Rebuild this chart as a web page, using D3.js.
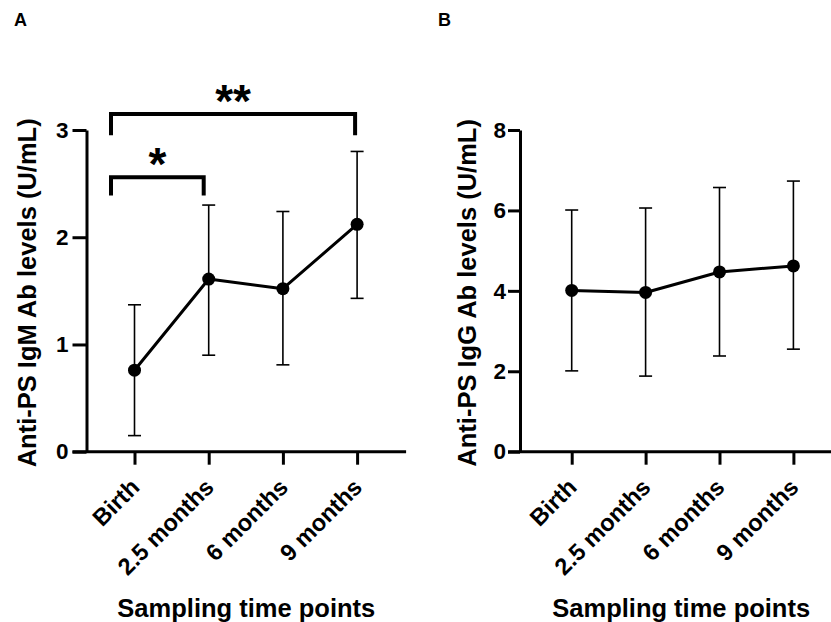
<!DOCTYPE html>
<html>
<head>
<meta charset="utf-8">
<script src="https://cdn.jsdelivr.net/npm/d3@7"></script>
<style>
  html, body { margin: 0; padding: 0; background: #fff; }
  svg { display: block; }
  text { font-family: "Liberation Sans", Arial, Helvetica, sans-serif; font-weight: bold; fill: #000; }
</style>
</head>
<body>
<svg id="chart" width="831" height="622"></svg>
<script>
// ---- data ----
const categories = ["Birth", "2.5 months", "6 months", "9 months"];

const igmMean = [0.76, 1.61, 1.52, 2.12];
const igmLow  = [0.15, 0.90, 0.81, 1.43];
const igmHigh = [1.37, 2.30, 2.24, 2.80];
const igmTicks = [0, 1, 2, 3];

const iggMean = [4.01, 3.96, 4.47, 4.62];
const iggLow  = [2.01, 1.88, 2.38, 2.55];
const iggHigh = [6.01, 6.06, 6.57, 6.73];
const iggTicks = [0, 2, 4, 6, 8];

// significance brackets (category indices, heights in data units)
const igmBrackets = [
  { from: 0, to: 1, y: 2.56, legBottom: 2.39, label: "*" },
  { from: 0, to: 3, y: 3.15, legBottom: 2.95, label: "**" }
];

const panelLabels = ["A", "B"];
const yTitles = ["Anti-PS IgM Ab levels (U/mL)", "Anti-PS IgG Ab levels (U/mL)"];
const xTitle = "Sampling time points";

// ---- layout ----
const svg = d3.select("#chart");
const yBottom = 451.7, yTop = 130;

const panels = [
  { label: panelLabels[0], labelX: 14, axisX: 86.5, firstOff: 48, step: 74.2,
    mean: igmMean, low: igmLow, high: igmHigh, ticks: igmTicks, max: 3,
    yTitle: yTitles[0], yTitleX: 36, tickLen: 14, tickPad: 4, brackets: igmBrackets },
  { label: panelLabels[1], labelX: 438, axisX: 520, firstOff: 51.7, step: 73.9,
    mean: iggMean, low: iggLow, high: iggHigh, ticks: iggTicks, max: 8,
    yTitle: yTitles[1], yTitleX: 476, tickLen: 12, tickPad: 2, brackets: [] }
];

panels.forEach(p => {
  const g = svg.append("g");
  const y = d3.scaleLinear().domain([0, p.max]).range([yBottom, yTop]);
  const x0 = p.axisX + p.firstOff;
  const x = d3.scalePoint().domain(categories).range([x0, x0 + p.step * (categories.length - 1)]);

  // panel letter
  svg.append("text").attr("x", p.labelX).attr("y", 26).attr("font-size", 18).text(p.label);

  // x axis line
  const xEnd = x(categories[categories.length - 1]) + 49;
  g.append("line")
    .attr("x1", p.axisX - p.tickLen).attr("x2", xEnd)
    .attr("y1", yBottom).attr("y2", yBottom)
    .attr("stroke", "#000").attr("stroke-width", 3);

  // x axis ticks + labels
  const xAxis = d3.axisBottom(x).tickSize(13).tickSizeOuter(0);
  const gx = g.append("g").attr("transform", `translate(0,${yBottom})`).call(xAxis);
  gx.select(".domain").remove();
  gx.selectAll(".tick line").attr("stroke", "#000").attr("stroke-width", 3);
  gx.selectAll(".tick text")
    .attr("x", 0).attr("y", 0).attr("dy", 0)
    .attr("transform", "translate(6,37) rotate(-45)")
    .attr("text-anchor", "end")
    .attr("font-size", 23.5)
    .style("font-family", '"Liberation Sans", Arial, sans-serif')
    .style("font-weight", "bold")
    .attr("fill", "#000");

  // y axis
  const yAxis = d3.axisLeft(y).tickValues(p.ticks).tickFormat(d3.format("d"))
    .tickSize(p.tickLen).tickSizeOuter(0).tickPadding(p.tickPad);
  const gy = g.append("g").attr("transform", `translate(${p.axisX},0)`).call(yAxis);
  gy.select(".domain").attr("stroke", "#000").attr("stroke-width", 3);
  gy.selectAll(".tick line").attr("stroke", "#000").attr("stroke-width", 3);
  gy.selectAll(".tick text")
    .attr("font-size", 22.5)
    .style("font-family", '"Liberation Sans", Arial, sans-serif')
    .style("font-weight", "bold")
    .attr("fill", "#000");

  // y title
  g.append("text")
    .attr("transform", `translate(${p.yTitleX},${(yTop + yBottom) / 2 + 2}) rotate(-90)`)
    .attr("text-anchor", "middle")
    .attr("font-size", 25.5)
    .text(p.yTitle);

  // x title
  g.append("text")
    .attr("x", (p.axisX + xEnd) / 2)
    .attr("y", 617)
    .attr("text-anchor", "middle")
    .attr("font-size", 25.5)
    .text(xTitle);

  const rows = categories.map((c, i) => ({ c, m: p.mean[i], lo: p.low[i], hi: p.high[i] }));

  // error bars
  const eb = g.append("g").attr("stroke", "#000").attr("stroke-width", 1.6);
  eb.selectAll("line.v").data(rows).join("line").attr("class", "v")
    .attr("x1", d => x(d.c)).attr("x2", d => x(d.c))
    .attr("y1", d => y(d.lo)).attr("y2", d => y(d.hi));
  eb.selectAll("line.t").data(rows).join("line").attr("class", "t")
    .attr("x1", d => x(d.c) - 6.5).attr("x2", d => x(d.c) + 6.5)
    .attr("y1", d => y(d.hi)).attr("y2", d => y(d.hi));
  eb.selectAll("line.b").data(rows).join("line").attr("class", "b")
    .attr("x1", d => x(d.c) - 6.5).attr("x2", d => x(d.c) + 6.5)
    .attr("y1", d => y(d.lo)).attr("y2", d => y(d.lo));

  // mean line
  g.append("path").datum(rows)
    .attr("fill", "none").attr("stroke", "#000").attr("stroke-width", 3)
    .attr("stroke-linejoin", "round")
    .attr("d", d3.line().x(d => x(d.c)).y(d => y(d.m)));

  // points
  g.selectAll("circle").data(rows).join("circle")
    .attr("cx", d => x(d.c)).attr("cy", d => y(d.m)).attr("r", 6.5).attr("fill", "#000");

  // brackets
  const pos = i => x0 + p.step * i;
  p.brackets.forEach(b => {
    const xl = pos(b.from) - 23.5;
    const xr = pos(b.to) - (b.to === 1 ? 5 : 2);
    g.append("path")
      .attr("d", `M${xl},${y(b.legBottom)}V${y(b.y)}H${xr}V${y(b.legBottom)}`)
      .attr("fill", "none").attr("stroke", "#000").attr("stroke-width", 4)
      .attr("stroke-linejoin", "miter");
    g.append("text")
      .attr("x", (xl + xr) / 2)
      .attr("y", y(b.y) - 22 + 0.55 * 46)
      .attr("text-anchor", "middle")
      .attr("font-size", 46)
      .text(b.label);
  });
});
</script>
</body>
</html>
